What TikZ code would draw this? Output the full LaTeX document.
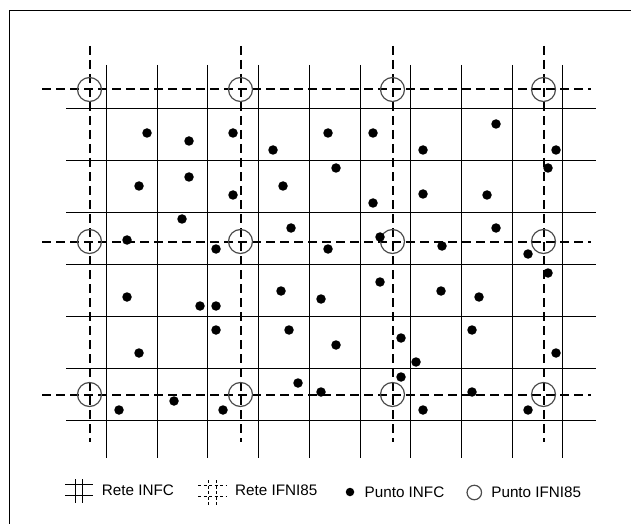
\documentclass[tikz,border=0pt]{standalone}
\usepackage{fontspec}
\setmainfont{Liberation Sans}
\usetikzlibrary{positioning}

\begin{document}
\begin{tikzpicture}[x=1bp, y=-1bp, every node/.style={inner sep=0pt},
    infc/.style={circle, fill=black, minimum size=9.5bp},
    ifni/.style={circle, draw=black!70, line width=1.2bp, minimum size=24bp},
    rete/.style={black, line width=1.6bp},
    reteifni/.style={black, line width=2bp, dash pattern=on 9bp off 5bp},
    legtext/.style={font=\fontsize{15.3}{18}\selectfont, anchor=west}]
  \useasboundingbox (0,0) rectangle (631,524);
  % cornice
  \draw[line width=1.2bp] (631,10.5) -- (9.5,10.5) -- (9.5,524);

  % rete INFC
  \foreach \x in {106.5,157.5,207.5,258.5,309.5,360.5,410.5,461.5,512.5,562.5}
    \draw[rete] (\x,65) -- (\x,458);
  \foreach \y in {108.5,160.5,212.5,264.5,316.5,368.5,420.5}
    \draw[rete] (66,\y) -- (596,\y);

  % rete IFNI85
  \foreach \x in {89.5,240.5,392.5,543.5} \draw[reteifni] (\x,46) -- (\x,442);
  \foreach \y in {89.5,241.5,394.5} \draw[reteifni] (42,\y) -- (591,\y);

  % punti IFNI85
  \foreach \x [count=\k] in {89.5,240.5,392.5,543.5}
    \foreach \y [count=\l] in {89.5,241.5,394.5}
      \node[ifni] (c\k\l) at (\x,\y) {};

  % punti INFC
  \foreach \x/\y [count=\n] in {147/133, 189/141, 233/133, 273/150, 328/133, 373/133, 423/150, 496/124, 556/150,
      139/186, 189/177, 233/195, 283/186, 336/168, 373/203, 423/194, 487/195, 548/168,
      182/219, 127/240, 216/249, 291/228, 328/249, 380/237, 442/246, 496/228, 528/254,
      127/297, 200/306, 216/306, 281/291, 321/299, 380/282, 441/291, 479/297, 548/273,
      216/330, 139/353, 289/330, 336/345, 401/338, 416/362, 472/330, 556/353,
      119/410, 174/401, 223/410, 298/383, 321/392, 401/377, 423/410, 472/392, 528/410}
    \node[infc] (p\n) at (\x,\y) {};

  % legenda
  \draw[rete] (65,484.5) -- (93,484.5) (65,495.5) -- (93,495.5)
    (75.5,479) -- (75.5,503) (82.5,479) -- (82.5,503);
  \node[legtext] (lrete) at (101.7,490.5) {Rete INFC};
  \draw[black, line width=1.1bp, dash pattern=on 3bp off 2.5bp]
    (198,485.5) -- (227,485.5) (198,496.5) -- (227,496.5)
    (208.5,480) -- (208.5,505) (216.5,480) -- (216.5,505);
  \node[legtext] (lreteifni) at (235,490.5) {Rete IFNI85};
  \node[infc, minimum size=8.5bp] (ldot) at (350,492) {};
  \node[legtext, right=10bp of ldot] (lpunto) {Punto INFC};
  \node[ifni, minimum size=14.5bp] (lcirc) at (474.3,492.5) {};
  \node[legtext, right=9bp of lcirc] (lpuntoifni) {Punto IFNI85};
\end{tikzpicture}
\end{document}
